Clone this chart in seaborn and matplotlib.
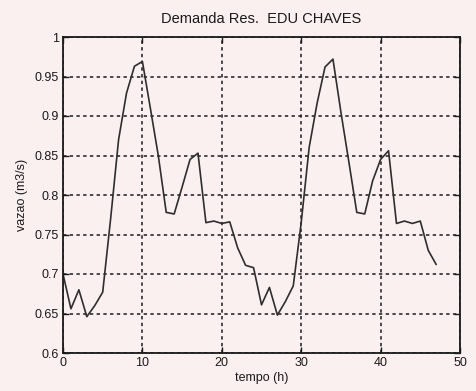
import numpy as np
import pandas as pd
import matplotlib
matplotlib.use("Agg")
import matplotlib.pyplot as plt
import seaborn as sns

# Hourly demand over two days
hours = list(range(48))
flow = [
    0.700, 0.656, 0.680, 0.646, 0.660, 0.677, 0.770, 0.870, 0.929, 0.963,
    0.969, 0.910, 0.850, 0.778, 0.776, 0.810, 0.845, 0.853, 0.765, 0.767,
    0.764, 0.766, 0.733, 0.711, 0.708, 0.661, 0.683, 0.648, 0.665, 0.685,
    0.765, 0.860, 0.916, 0.962, 0.972, 0.905, 0.842, 0.778, 0.776, 0.818,
    0.845, 0.856, 0.764, 0.767, 0.764, 0.767, 0.730, 0.712,
]
x_ticks = [0, 10, 20, 30, 40, 50]
y_ticks = [0.6, 0.65, 0.7, 0.75, 0.8, 0.85, 0.9, 0.95, 1.0]
y_tick_labels = ["0.6", "0.65", "0.7", "0.75", "0.8", "0.85", "0.9", "0.95", "1"]

df = pd.DataFrame({"tempo": hours, "vazao": flow})

sns.set_theme(style="white")
plt.rcParams["font.family"] = ["Liberation Sans", "DejaVu Sans"]

bg = "#fbf0f0"
fig = plt.figure(figsize=(4.76, 3.91), dpi=100, facecolor=bg)
ax = fig.add_axes([63 / 476, 1 - 353 / 391, 397 / 476, 316 / 391], facecolor=bg)

sns.lineplot(data=df, x="tempo", y="vazao", ax=ax, color="#2e2e2e", linewidth=1.2)

ax.set_xlim(0, 50)
ax.set_ylim(0.6, 1.0)
ax.set_xticks(x_ticks)
ax.set_xticklabels([str(v) for v in x_ticks])
ax.set_yticks(y_ticks)
ax.set_yticklabels(y_tick_labels)

ax.grid(True, color="#1a1a1a", linestyle=(0, (2.2, 2.2)), linewidth=1.1)
for side in ax.spines.values():
    side.set_color("#1a1a1a")
    side.set_linewidth(1.3)

ax.tick_params(axis="both", direction="in", length=4, width=1.0, color="#1a1a1a",
               labelsize=9, labelcolor="#1a1a1a", pad=3)
ax.tick_params(axis="both", which="both", bottom=True, left=True, top=True, right=True,
               labeltop=False, labelright=False)

ax.set_title("Demanda Res.  EDU CHAVES", fontsize=10.5, color="#1a1a1a", pad=10)
ax.set_xlabel("tempo (h)", fontsize=9, color="#1a1a1a", labelpad=2)
ax.set_ylabel("vazao (m3/s)", fontsize=9, color="#1a1a1a", labelpad=5)

fig.savefig("out.png", dpi=100, facecolor=bg)
